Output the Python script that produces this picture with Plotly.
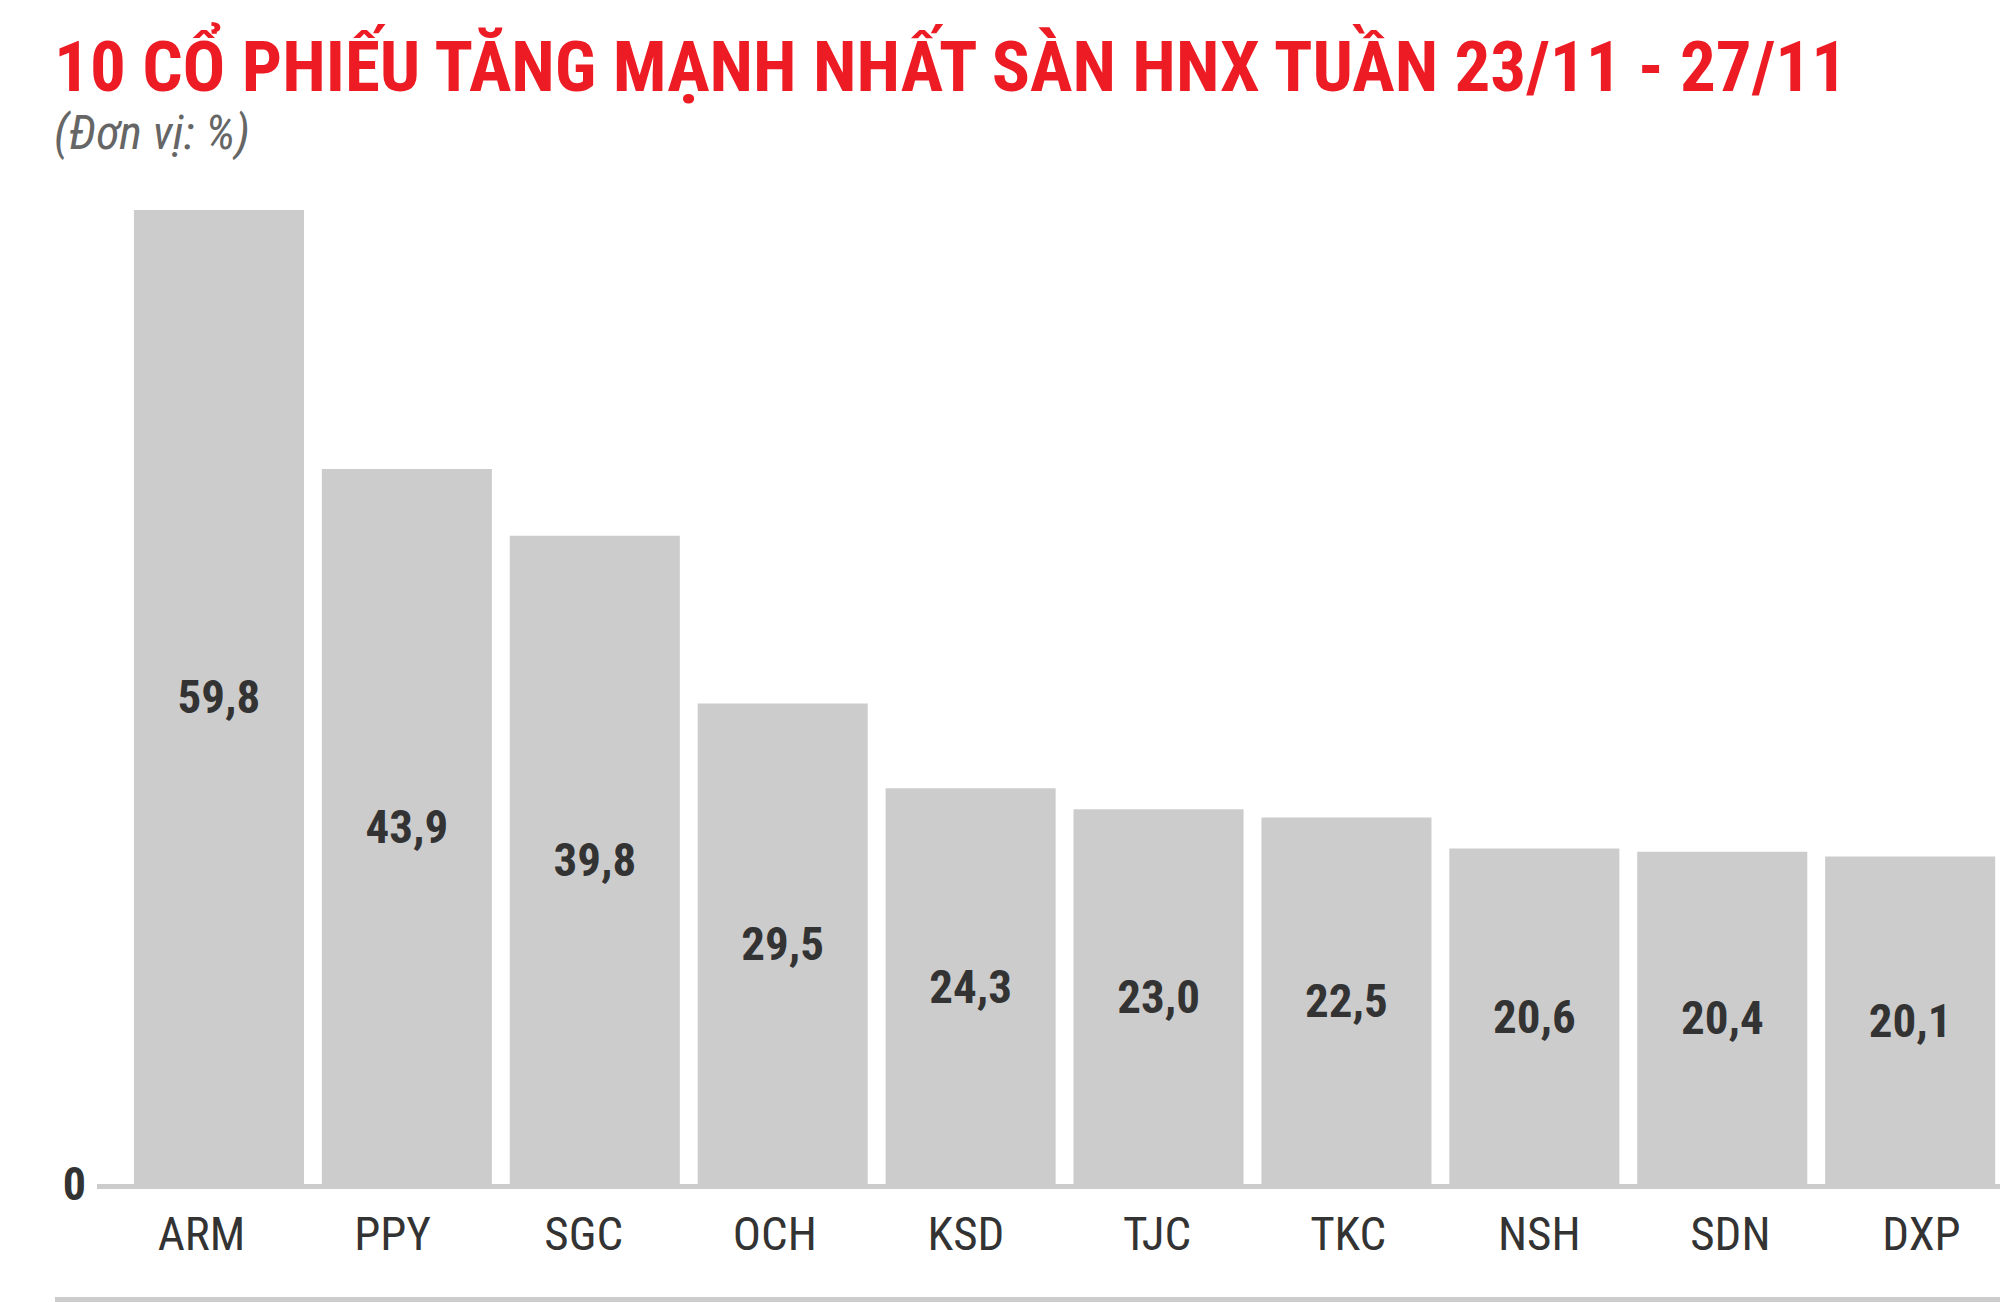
import plotly.graph_objects as go

categories = ["ARM", "PPY", "SGC", "OCH", "KSD", "TJC", "TKC", "NSH", "SDN", "DXP"]
values = [59.8, 43.9, 39.8, 29.5, 24.3, 23.0, 22.5, 20.6, 20.4, 20.1]
value_labels = ["59,8", "43,9", "39,8", "29,5", "24,3", "23,0", "22,5", "20,6", "20,4", "20,1"]
y_tick_vals = [0]
y_tick_text = ["0"]

title_text = "10 CỔ PHIẾU TĂNG MẠNH NHẤT SÀN HNX TUẦN 23/11 - 27/11"
subtitle_text = "(Đơn vị: %)"

COND = "Roboto Condensed, Liberation Sans Narrow, Arial Narrow, DejaVu Sans Condensed, Roboto, sans-serif"

idx = list(range(len(categories)))

fig = go.Figure()
fig.add_trace(go.Bar(
    x=idx,
    y=values,
    text=value_labels,
    textposition="inside",
    insidetextanchor="middle",
    textangle=0,
    constraintext="none",
    textfont=dict(family=COND, size=47, color="#333333", weight="bold"),
    marker=dict(color="#cccccc", line=dict(width=0)),
    hoverinfo="skip",
    showlegend=False,
))
# helper trace (draws nothing) so the category-label axis is rendered
fig.add_trace(go.Scatter(
    x=idx, y=[None] * len(idx), xaxis="x2", yaxis="y",
    mode="markers", hoverinfo="skip", showlegend=False,
))

PLOT_BOTTOM = 1184
PLOT_TOP = 180

fig.update_layout(
    width=2000,
    height=1302,
    margin=dict(l=97, r=0, t=PLOT_TOP, b=1302 - PLOT_BOTTOM),
    paper_bgcolor="white",
    plot_bgcolor="white",
    bargap=0.095,
    title=dict(
        text=title_text,
        font=dict(family=COND, size=71, color="#ED1C24", weight="bold"),
        x=54 / 2000, xanchor="left", xref="container",
        y=1 - 66 / 1302, yanchor="middle", yref="container",
    ),
    xaxis=dict(
        type="linear",
        range=[-0.649, 9.478],
        showticklabels=False,
        ticks="",
        showgrid=False,
        zeroline=False,
        showline=True,
        linecolor="#cccccc",
        linewidth=5,
        fixedrange=True,
    ),
    xaxis2=dict(
        type="linear",
        overlaying="x",
        anchor="y",
        side="bottom",
        range=[-0.547, 9.411],
        tickmode="array",
        tickvals=idx,
        ticktext=categories,
        ticks="",
        ticklabelstandoff=18,
        tickfont=dict(family=COND, size=47, color="#333333"),
        showgrid=False,
        zeroline=False,
        showline=False,
        fixedrange=True,
    ),
    yaxis=dict(
        range=[0, 61.64],
        tickmode="array",
        tickvals=y_tick_vals,
        ticktext=y_tick_text,
        ticks="",
        ticklabelstandoff=10,
        tickfont=dict(family=COND, size=46, color="#333333", weight="bold"),
        showgrid=False,
        zeroline=False,
        showline=False,
        fixedrange=True,
    ),
    annotations=[
        dict(
            text=subtitle_text,
            xref="paper", yref="paper",
            x=(52 - 97) / 1903, y=(PLOT_BOTTOM - 132) / (PLOT_BOTTOM - PLOT_TOP),
            xanchor="left", yanchor="middle",
            showarrow=False,
            font=dict(family=COND, size=48, color="#666666", style="italic"),
        )
    ],
    shapes=[
        dict(
            type="line", xref="paper", yref="paper",
            x0=(55 - 97) / 1903, x1=1.0,
            y0=(PLOT_BOTTOM - 1299.5) / (PLOT_BOTTOM - PLOT_TOP),
            y1=(PLOT_BOTTOM - 1299.5) / (PLOT_BOTTOM - PLOT_TOP),
            line=dict(color="#cccccc", width=5),
        )
    ],
)

fig.write_html("out.html", config={"displayModeBar": False},
               post_script="document.body.style.margin='0';")
